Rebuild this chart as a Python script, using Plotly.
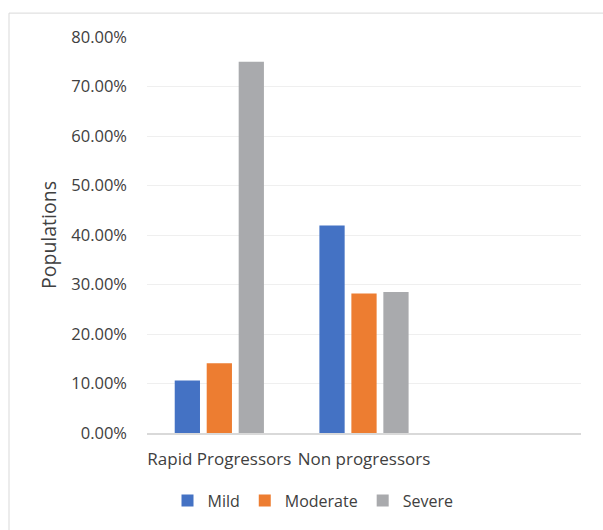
import plotly.graph_objects as go

# Share of each severity class within the two progression groups
categories = ["Rapid Progressors", "Non progressors", " "]
series_names = ["Mild", "Moderate", "Severe"]
mild = [0.106, 0.419]
moderate = [0.141, 0.282]
severe = [0.750, 0.285]
colors = ["#4472C4", "#ED7D31", "#A9AAAD"]

W, H = 603, 530
L, R, T, B = 147, 22, 37, 95
pw, ph = W - L - R, H - T - B

fig = go.Figure()
for name, vals, col in zip(series_names, [mild, moderate, severe], colors):
    fig.add_trace(go.Bar(
        name=name, x=categories[:len(vals)], y=vals,
        marker=dict(color=col, line=dict(width=0)),
    ))

# light frame around the whole chart area
def px_x(v):
    return (v - L) / pw

def px_y(v):
    return (H - B - v) / ph

fig.add_shape(type="rect", xref="paper", yref="paper",
              x0=px_x(9), x1=px_x(640), y0=px_y(13), y1=px_y(560),
              line=dict(color="#D9D9D9", width=1), fillcolor="rgba(0,0,0,0)",
              layer="below")

font = "Open Sans, sans-serif"
fig.update_layout(
    width=W, height=H,
    margin=dict(l=L, r=R, t=T, b=B),
    paper_bgcolor="white", plot_bgcolor="white",
    barmode="group", bargap=0.337, bargroupgap=0.21,
    font=dict(family=font, color="#404040", size=16),
    showlegend=True,
    legend=dict(orientation="h", x=px_x(313), xanchor="center",
                y=px_y(503), yanchor="middle",
                font=dict(size=16, color="#404040"),
                itemwidth=30, tracegroupgap=0),
    xaxis=dict(type="category", categoryorder="array", categoryarray=categories,
               range=[-0.5, 2.5], showgrid=False, zeroline=False,
               showline=True, linecolor="#D9D9D9", linewidth=1.5,
               ticks="", tickfont=dict(size=17, color="#404040"),
               ticklabelstandoff=10),
    yaxis=dict(range=[0, 0.8], dtick=0.1, tickformat=".2%",
               showgrid=True, gridcolor="#EFEFEF", gridwidth=1,
               zeroline=False, showline=False, ticks="",
               tickfont=dict(size=16.5, color="#404040"),
               ticklabelstandoff=19,
               title=dict(text="Populations", font=dict(size=19.5, color="#404040"),
                          standoff=9)),
)

fig.write_html("out.html")
